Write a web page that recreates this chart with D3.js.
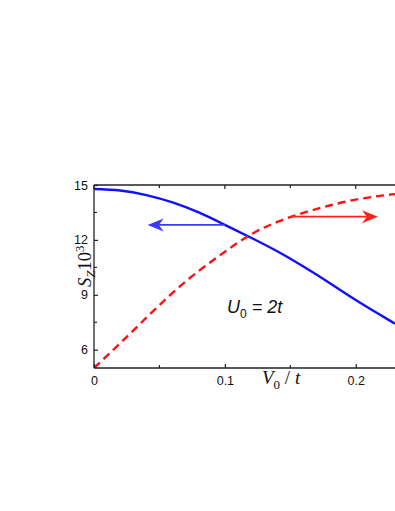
<!DOCTYPE html>
<html><head><meta charset="utf-8">
<script src="https://cdn.jsdelivr.net/npm/d3@7"></script>
<style>body{margin:0;background:#fff}svg{display:block}</style>
</head><body>
<script>
const vValues = [0, 0.02, 0.04, 0.06, 0.08, 0.10, 0.12, 0.14, 0.16, 0.18, 0.20, 0.22, 0.23];
const szBlue  = [14.78, 14.7, 14.45, 14.05, 13.5, 12.82, 12.12, 11.38, 10.55, 9.65, 8.72, 7.85, 7.42];
const szRed   = [5.0, 6.35, 7.75, 9.1, 10.3, 11.35, 12.3, 12.98, 13.48, 13.88, 14.2, 14.42, 14.5];
const xMajor = [0, 0.1, 0.2];
const xMinor = [0.05, 0.15];
const yMajor = [6, 9, 12, 15];
const yMinor = [7.5, 10.5, 13.5];
const blueArrow = {from: [0.1, 12.82], to: [0.041, 12.82]};
const redArrow = {from: [0.15, 13.27], to: [0.217, 13.27]};

const W = 395, H = 511;
const svg = d3.select("body").append("svg").attr("width", W).attr("height", H);
const x = d3.scaleLinear().domain([0, 0.23]).range([94, 395]);
const y = d3.scaleLinear().domain([5, 15]).range([368, 185]);

const defs = svg.append("defs");
defs.append("clipPath").attr("id","clip").append("rect")
  .attr("x", 94).attr("y", 185).attr("width", 301).attr("height", 183);

const line = d3.line().x((d,i)=>x(vValues[i])).y(d=>y(d)).curve(d3.curveNatural);

const g = svg.append("g").attr("clip-path","url(#clip)");
g.append("path").datum(szBlue).attr("d", line).attr("fill","none")
  .attr("stroke","#1010ff").attr("stroke-width",2.4);
g.append("path").datum(szRed).attr("d", line).attr("fill","none")
  .attr("stroke","#ff1010").attr("stroke-width",2.4).attr("stroke-dasharray","8,5");

function arrow(a, color){
  const x1 = x(a.from[0]), x2 = x(a.to[0]), yy = y(a.from[1]);
  const dir = Math.sign(x2 - x1);
  svg.append("line").attr("x1",x1).attr("x2",x2 - dir*8).attr("y1",yy).attr("y2",yy)
    .attr("stroke",color).attr("stroke-width",1.6);
  const L = 16, Wd = 6.5;
  svg.append("path")
    .attr("d", `M${x2},${yy} L${x2-dir*L},${yy-Wd} L${x2-dir*L*0.7},${yy} L${x2-dir*L},${yy+Wd} Z`)
    .attr("fill",color);
}
arrow(blueArrow, "#3a3aff");
arrow(redArrow, "#ff2020");

// axes
const ax = svg.append("g").attr("stroke","#222").attr("stroke-width",1.3);
ax.append("line").attr("x1",x(0)).attr("x2",395).attr("y1",y(5)).attr("y2",y(5));
ax.append("line").attr("x1",x(0)).attr("x2",395).attr("y1",y(15)).attr("y2",y(15));
ax.append("line").attr("x1",x(0)).attr("x2",x(0)).attr("y1",y(5)).attr("y2",y(15));

const bottom = d3.axisBottom(x).tickValues(xMajor).tickSize(-4).tickFormat(d=> d===0?"0":d3.format(".1f")(d));
const bg = svg.append("g").attr("transform",`translate(0,${y(5)})`).call(bottom);
bg.select(".domain").remove();
bg.selectAll(".tick line").attr("stroke","#222").attr("stroke-width",1.2);
bg.selectAll(".tick text").attr("font-family","Liberation Sans, Arial").attr("font-size",12.5)
  .attr("fill","#111").attr("y",8).attr("dy","0.71em");
xMinor.forEach(v=>{
  svg.append("line").attr("x1",x(v)).attr("x2",x(v)).attr("y1",y(5)).attr("y2",y(5)-3).attr("stroke","#222").attr("stroke-width",1.2);
});
xMajor.concat(xMinor).forEach(v=>{
  svg.append("line").attr("x1",x(v)).attr("x2",x(v)).attr("y1",y(15)).attr("y2",y(15)+(xMajor.includes(v)?4:3)).attr("stroke","#222").attr("stroke-width",1.2);
});

const left = d3.axisLeft(y).tickValues(yMajor).tickSize(-4);
const lg = svg.append("g").attr("transform",`translate(${x(0)},0)`).call(left);
lg.select(".domain").remove();
lg.selectAll(".tick line").attr("stroke","#222").attr("stroke-width",1.2);
lg.selectAll(".tick text").attr("font-family","Liberation Sans, Arial").attr("font-size",12.5)
  .attr("fill","#111").attr("x",-6);
yMinor.forEach(v=>{
  svg.append("line").attr("x1",x(0)).attr("x2",x(0)+3).attr("y1",y(v)).attr("y2",y(v)).attr("stroke","#222").attr("stroke-width",1.2);
});

// x label
const xl = svg.append("text").attr("x",262).attr("y",384)
  .attr("font-family","Liberation Serif, Times New Roman").attr("font-size",19).attr("fill","#111");
xl.append("tspan").attr("font-style","italic").text("V");
xl.append("tspan").attr("font-size",13).attr("dy",5).text("0");
xl.append("tspan").attr("dy",-5).text(" / ");
xl.append("tspan").attr("font-style","italic").text("t");

// y label
const yl = svg.append("text").attr("transform","translate(91,287) rotate(-90)")
  .attr("font-family","Liberation Serif, Times New Roman").attr("font-size",18.5).attr("fill","#111");
yl.append("tspan").attr("font-style","italic").text("S");
yl.append("tspan").attr("font-style","italic").attr("font-size",13).attr("dy",4).text("Z");
yl.append("tspan").attr("dy",-4).text("10");
yl.append("tspan").attr("font-size",13).attr("dy",-7).text("3");

// annotation
const ann = svg.append("text").attr("x",227).attr("y",313)
  .attr("font-family","Liberation Sans, Arial").attr("font-size",18).attr("fill","#111");
ann.append("tspan").attr("font-style","italic").text("U");
ann.append("tspan").attr("font-size",12).attr("dy",5).text("0");
ann.append("tspan").attr("dy",-5).attr("font-style","italic").text(" = 2t");
</script>
</body></html>
